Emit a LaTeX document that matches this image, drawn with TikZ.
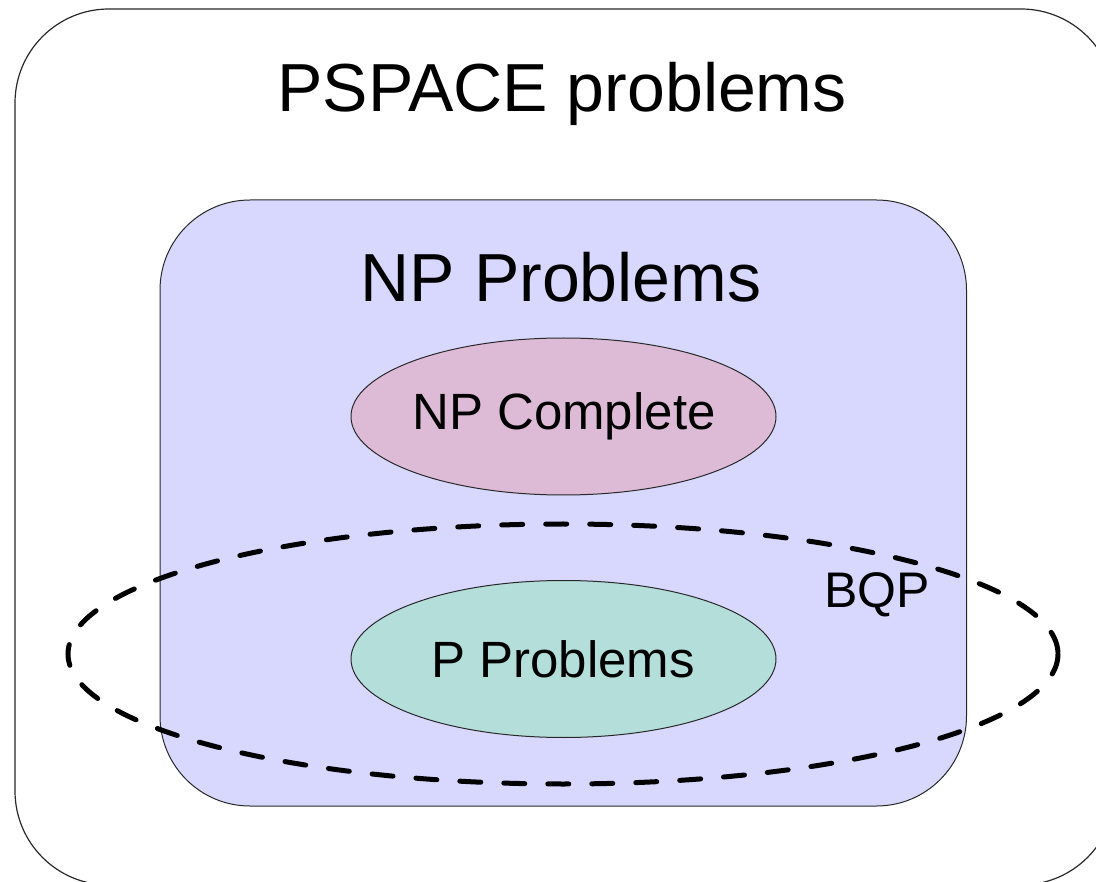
\documentclass[tikz,border=0pt]{standalone}
\usepackage{fontspec}
\setmainfont{Liberation Sans}
\usetikzlibrary{shapes.geometric}
\definecolor{npfill}{RGB}{216,216,255}
\definecolor{npcfill}{RGB}{221,187,215}
\definecolor{ppfill}{RGB}{180,222,218}
\definecolor{edge}{RGB}{40,40,40}
\tikzset{
  setbox/.style={draw=edge, line width=1.2pt},
  blob/.style={ellipse, draw=edge, line width=1pt, minimum width=425pt, minimum height=157pt, inner sep=0pt},
  bigtxt/.style={anchor=base, inner sep=0pt, font=\fontsize{68}{80}\selectfont},
  midtxt/.style={anchor=base, inner sep=0pt, font=\fontsize{51}{60}\selectfont},
  bqpline/.style={draw=black, line width=5pt, line cap=round, dash pattern=on 21pt off 23pt}
}
\begin{document}
\begin{tikzpicture}[x=1pt,y=-1pt]
\useasboundingbox (0,0) rectangle (1096,882);
\begin{scope}
\clip (0,0) rectangle (1096,882);
\draw[setbox] (15,9) [rounded corners=94pt] rectangle (1115,885);
\end{scope}
\draw[setbox, fill=npfill, line width=1pt] (160,200) [rounded corners=90pt] rectangle (966.5,806);
\node[blob, fill=npcfill] (npc) at (563.5,416.5) {};
\node[blob, fill=ppfill] (pp) at (563.5,659) {};
\draw[bqpline] (563,654) ellipse [x radius=495, y radius=130];
\node[bigtxt] (pspace) at (562,112) {PSPACE problems};
\node[bigtxt] (np) at (561,302) {NP Problems};
\node[midtxt] (npct) at (564,430) {NP Complete};
\node[midtxt] (ppt) at (563,677) {P Problems};
\node[midtxt, font=\fontsize{50}{60}\selectfont] (bqp) at (877,608) {BQP};
\end{tikzpicture}
\end{document}
